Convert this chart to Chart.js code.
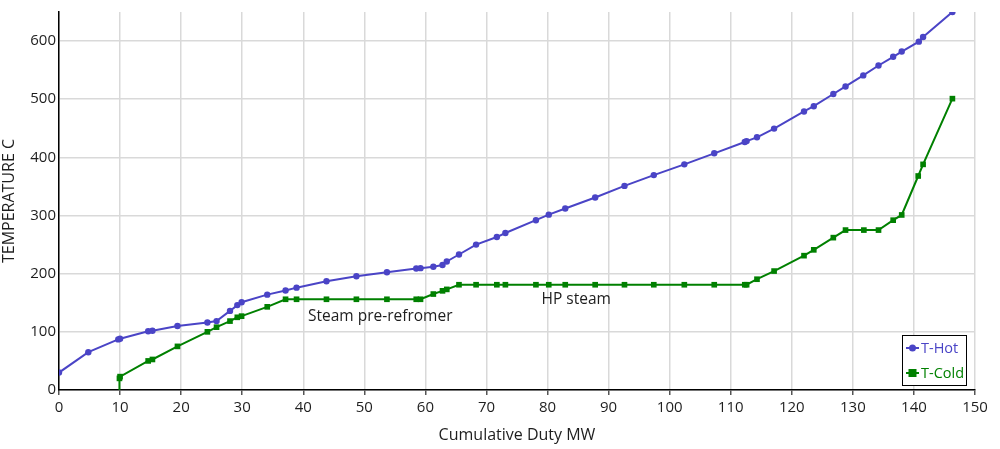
<!DOCTYPE html>
<html lang="en">
<head>
    <meta charset="UTF-8">
    <title>Composite Curves</title>
    <script src="https://cdn.jsdelivr.net/npm/chart.js"></script>
    <style>
        body { margin: 0; background: #fff; }
        #wrap { width: 1000px; height: 449px; }
    </style>
</head>
<body>
    <div id="wrap"><canvas id="myChart"></canvas></div>

    <script>
        // Hot composite curve (duty MW, temperature C)
        const hotDuty = [0, 4.8, 9.7, 10.0, 14.6, 15.3, 19.4, 24.3, 25.8, 28.0, 29.2, 29.9, 34.1, 37.1, 38.9, 43.8,
            48.7, 53.7, 58.5, 59.2, 61.3, 62.8, 63.5, 65.5, 68.3, 71.7, 73.1, 78.1, 80.2, 82.9, 87.8, 92.6, 97.4,
            102.4, 107.3, 112.3, 112.6, 114.3, 117.1, 122.0, 123.6, 126.8, 128.8, 131.7, 134.2, 136.6, 138.0, 140.8, 141.5, 146.3];
        const hotTemp = [30, 65, 87, 88, 101, 102, 110, 116, 118.5, 136, 146, 151, 164, 171, 176, 187,
            195.5, 202.5, 209, 209.5, 212, 215, 221, 233, 250, 263, 270, 292, 301.5, 312, 331, 351, 369.5,
            388, 407, 426.5, 428, 434.5, 449.5, 479, 488, 509, 522, 541, 558, 573, 582, 599, 607, 650];

        // Cold composite curve
        const coldDuty = [9.85, 9.9, 10.0, 14.6, 15.3, 19.4, 24.3, 25.8, 28.0, 29.2, 29.9, 34.1, 37.1, 38.9, 43.8,
            48.7, 53.7, 58.5, 59.2, 61.3, 62.8, 63.5, 65.5, 68.3, 71.7, 73.1, 78.1, 80.2, 82.9, 87.8, 92.6, 97.4,
            102.4, 107.3, 112.3, 112.6, 114.3, 117.1, 122.0, 123.6, 126.8, 128.8, 131.8, 134.2, 136.6, 138.0, 140.7, 141.5, 146.3];
        const coldTemp = [0, 20, 23, 50, 52.5, 75, 100, 108, 118.5, 125, 127, 143, 156, 156, 156,
            156, 156, 156, 156, 165, 170.5, 173, 181, 181, 181, 181, 181, 181, 181, 181, 181, 181,
            181, 181, 181, 181, 190.5, 204.5, 231, 241, 262, 275, 275, 275, 292, 301, 368, 388, 501];

        const seriesNames = ['T-Hot', 'T-Cold'];
        const seriesColors = ['#4a44c6', '#008000'];

        // text labels placed in data coordinates
        const notes = [
            { text: 'Steam pre-refromer', x: 52.6, y: 126 },
            { text: 'HP steam', x: 84.7, y: 156 }
        ];

        const FONT = '"Open Sans", "Noto Sans", sans-serif';

        const toPoints = (xs, ys) => xs.map((x, i) => ({ x: x, y: ys[i] }));

        const notesPlugin = {
            id: 'notes',
            afterDatasetsDraw(chart) {
                const { ctx, scales } = chart;
                ctx.save();
                ctx.font = '15.5px ' + FONT;
                ctx.fillStyle = '#1e1e1e';
                ctx.textAlign = 'center';
                ctx.textBaseline = 'middle';
                notes.forEach(n => {
                    ctx.fillText(n.text, scales.x.getPixelForValue(n.x), scales.y.getPixelForValue(n.y));
                });
                ctx.restore();
            }
        };

        // legend box in the lower right corner of the plot
        const boxLegend = {
            id: 'boxLegend',
            afterDraw(chart) {
                const { ctx, chartArea } = chart;
                const w = 64, h = 50;
                const x0 = chartArea.right - 73, y0 = chartArea.bottom - 55;
                ctx.save();
                ctx.fillStyle = '#fff';
                ctx.fillRect(x0, y0, w, h);
                ctx.strokeStyle = '#000';
                ctx.lineWidth = 1;
                ctx.strokeRect(x0 + 0.5, y0 + 0.5, w, h);
                ctx.font = '14.5px ' + FONT;
                ctx.textBaseline = 'middle';
                chart.data.datasets.forEach((ds, i) => {
                    const yy = y0 + 13 + i * 25;
                    ctx.strokeStyle = ds.borderColor;
                    ctx.lineWidth = 2;
                    ctx.beginPath();
                    ctx.moveTo(x0 + 4, yy);
                    ctx.lineTo(x0 + 17, yy);
                    ctx.stroke();
                    ctx.fillStyle = ds.borderColor;
                    if (ds.pointStyle === 'rect') {
                        ctx.fillRect(x0 + 6.5, yy - 4, 8, 8);
                    } else {
                        ctx.beginPath();
                        ctx.arc(x0 + 10.5, yy, 3.5, 0, Math.PI * 2);
                        ctx.fill();
                    }
                    ctx.fillText(ds.label, x0 + 19, yy + 1);
                });
                ctx.restore();
            }
        };

        const ctx = document.getElementById('myChart').getContext('2d');
        const myChart = new Chart(ctx, {
            type: 'scatter',
            data: {
                datasets: [{
                    label: seriesNames[0],
                    data: toPoints(hotDuty, hotTemp),
                    showLine: true,
                    borderColor: seriesColors[0],
                    backgroundColor: seriesColors[0],
                    borderWidth: 2,
                    pointStyle: 'circle',
                    pointRadius: 3.2,
                    pointBorderWidth: 0
                }, {
                    label: seriesNames[1],
                    data: toPoints(coldDuty, coldTemp),
                    showLine: true,
                    borderColor: seriesColors[1],
                    backgroundColor: seriesColors[1],
                    borderWidth: 2,
                    pointStyle: 'rect',
                    pointRadius: coldDuty.map((d, i) => i === 0 ? 0 : 4),
                    pointBorderWidth: 0
                }]
            },
            plugins: [notesPlugin, boxLegend],
            options: {
                responsive: true,
                maintainAspectRatio: false,
                animation: false,
                layout: { padding: { top: 10, right: 25, left: 0, bottom: 0 } },
                plugins: {
                    legend: { display: false },
                    tooltip: { enabled: false }
                },
                scales: {
                    x: {
                        type: 'linear',
                        min: 0,
                        max: 150,
                        afterFit(scale) { scale.height = 59; },
                        ticks: {
                            stepSize: 10,
                            color: '#1e1e1e',
                            font: { family: FONT, size: 15 },
                            padding: 4
                        },
                        grid: {
                            color: '#d9d9d9',
                            lineWidth: 1.5,
                            tickLength: 5,
                            tickColor: '#555'
                        },
                        border: { color: '#000', width: 1.5 },
                        title: {
                            display: true,
                            text: 'Cumulative Duty MW',
                            color: '#1e1e1e',
                            font: { family: FONT, size: 16 },
                            padding: { top: 6 }
                        }
                    },
                    y: {
                        min: 0,
                        max: 650,
                        afterFit(scale) { scale.width = 59; },
                        ticks: {
                            stepSize: 100,
                            color: '#1e1e1e',
                            font: { family: FONT, size: 15 },
                            padding: 3
                        },
                        afterBuildTicks(scale) {
                            scale.ticks = scale.ticks.filter(t => t.value % 100 === 0);
                        },
                        grid: {
                            color: '#d9d9d9',
                            lineWidth: 1.5,
                            drawTicks: false
                        },
                        border: { color: '#000', width: 1.5 },
                        title: {
                            display: true,
                            text: 'TEMPERATURE C',
                            color: '#1e1e1e',
                            font: { family: FONT, size: 16 },
                            padding: { top: 0, bottom: 0 }
                        }
                    }
                }
            }
        });
    </script>
</body>
</html>
